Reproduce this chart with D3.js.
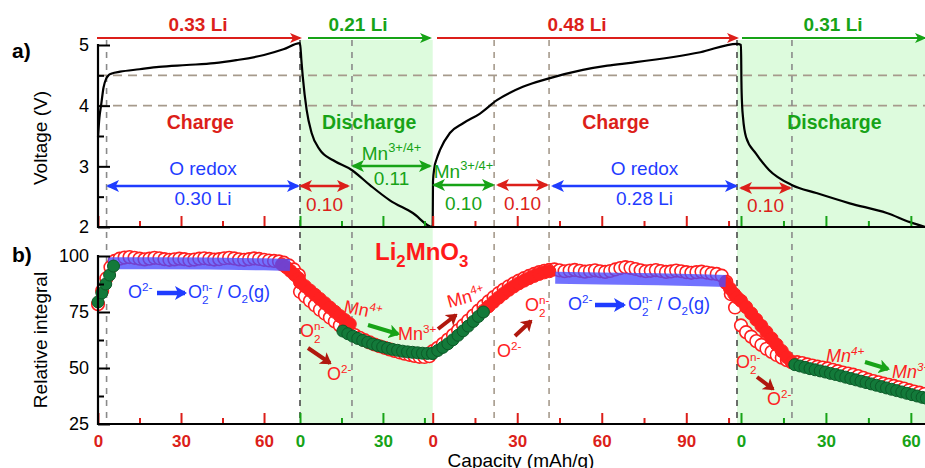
<!DOCTYPE html>
<html>
<head>
<meta charset="utf-8">
<script src="https://cdn.jsdelivr.net/npm/d3@7"></script>
<style>
  body { margin: 0; background: #fff; }
  svg { display: block; font-family: "Liberation Sans", Arial, sans-serif; }
</style>
</head>
<body>
<div id="chart"></div>
<script>
// ---- data ----
const segNames = ['Charge', 'Discharge', 'Charge', 'Discharge'];
const segLi = ['0.33 Li', '0.21 Li', '0.48 Li', '0.31 Li'];
const segCap = [73, 48, 108, 65];            // mAh/g shown in each segment
const segTicks = [[0, 15, 30, 45, 60], [0, 15, 30, 45], [0, 15, 30, 45, 60, 75, 90, 105], [0, 15, 30, 45, 60]];
const voltTicks = [2, 2.5, 3, 3.5, 4, 4.5, 5];
const integralTicks = [25, 37.5, 50, 62.5, 75, 87.5, 100];
const voltGuides = [4.5, 4];
const capGuideSeg = [0, 1, 1, 2, 2, 2, 3];
const capGuideVal = [3.1, 0, 18.8, 21.8, 41.3, 108, 18];

// voltage profiles, [capacity, V]
const volt = [
  [[0, 3.48], [0.5, 3.8], [1.1, 4.0], [2, 4.3], [3, 4.45], [3.8, 4.5], [5, 4.53], [8, 4.56], [15, 4.6], [22, 4.64],
   [32, 4.67], [42, 4.7], [50, 4.75], [60, 4.835], [67, 4.93], [73, 5.03]],
  [[0, 5.03], [0.5, 4.75], [1, 4.48], [2.4, 3.93], [4.2, 3.55], [7.2, 3.27], [12, 3.1], [18.7, 2.94], [25.3, 2.69],
   [32.5, 2.44], [40.8, 2.23], [48, 2.0]],
  [[0, 2.0], [0.1, 2.75], [0.6, 2.98], [1.4, 3.12], [2.6, 3.27], [6.1, 3.55], [10.8, 3.71], [16.8, 3.87], [22.8, 4.09],
   [32, 4.31], [41.3, 4.45], [53.3, 4.59], [62, 4.66], [71, 4.71], [95, 4.88], [108, 5.02]],
  [[0, 5.0], [0.15, 4.4], [0.4, 4.0], [0.7, 3.81], [1.8, 3.48], [5.3, 3.21], [9.9, 2.94], [18.1, 2.69], [26.6, 2.56],
   [38.4, 2.39], [51.5, 2.23], [59.7, 2.08], [65, 2.0]]
];

// relative integral, [capacity, %]
const redOpen = [
  [[0, 78.5], [1.5, 84.5], [3, 90], [4.5, 95], [6, 97.8], [7.8, 98.8], [9.6, 99.3], [11.4, 99.5], [13.2, 99.2], [15, 98.8],
   [16.8, 98.5], [18.6, 98.8], [20.4, 99.2], [22.2, 99], [24, 98.6], [25.8, 98.3], [27.6, 98.5], [29.4, 98.8], [31.2, 98.6],
   [33, 98.2], [34.8, 98.4], [36.6, 98.8], [38.4, 99], [40.2, 98.7], [42, 98.4], [43.8, 98.6], [45.6, 99], [47.4, 99.2],
   [49.2, 98.9], [51, 98.5], [52.8, 98.3], [54.6, 98.6], [56.4, 98.9], [58.2, 98.7], [60, 98.3], [61.8, 98], [63.6, 97.8],
   [65.4, 97.6], [67.2, 97], [69, 95.8], [70.8, 94], [72.6, 91.5]],
  [[0, 84], [1.8, 82], [3.6, 80], [5.4, 78], [7.2, 76], [9, 74.3], [10.8, 72.5], [12.6, 70.8], [14.4, 69], [16.2, 67.5],
   [18, 66], [19.8, 64.7], [21.6, 63.5], [23.4, 62.4], [25.2, 61.4], [27, 60.5], [28.8, 59.7], [30.6, 59], [32.4, 58.3],
   [34.2, 57.6], [36, 57], [37.8, 56.4], [39.6, 55.9], [41.4, 55.4], [43.2, 55], [45, 54.9], [46.8, 55.3]],
  [[0, 57.5], [1.8, 59], [3.6, 60.8], [5.4, 62.7], [7.2, 64.7], [9, 66.8], [10.8, 69], [12.6, 71.2], [14.4, 73.4],
   [16.2, 75.6], [18, 77.7], [19.8, 79.7], [21.6, 81.6], [23.4, 83.4], [25.2, 85], [27, 86.5], [28.8, 87.8], [30.6, 89],
   [32.4, 90.1], [34.2, 91.1], [36, 92], [37.8, 92.8], [39.6, 93.4], [41.4, 93.8], [43.2, 94], [45, 93.6], [46.8, 93.2],
   [48.6, 93.5], [50.4, 93.8], [52.2, 93.4], [54, 93], [55.8, 93.3], [57.6, 93.6], [59.4, 93.2], [61.2, 92.9], [63, 93.3],
   [64.8, 94], [66.6, 94.6], [68.4, 95], [70.2, 94.7], [72, 94.2], [73.8, 93.6], [75.6, 93.2], [77.4, 93.4], [79.2, 93.7],
   [81, 93.3], [82.8, 92.9], [84.6, 93.1], [86.4, 93.5], [88.2, 93.2], [90, 92.8], [91.8, 92.5], [93.6, 92.8], [95.4, 93],
   [97.2, 92.6], [99, 92.2], [100.8, 92], [102.6, 91.2], [104.2, 88.5], [105.8, 83], [107.3, 77]],
  [[0, 69], [1.8, 66], [3.6, 64], [5.4, 62], [7.2, 60.3], [9, 58.6], [10.8, 57.2], [12.6, 55.8], [14.4, 54.6], [16.2, 53.5],
   [18, 52.6], [19.8, 52.6], [21.6, 52.2], [23.4, 51.6], [25.2, 51.1], [27, 50.6], [28.8, 50.2], [30.6, 49.8], [32.4, 49.2],
   [34.2, 48.6], [36, 48], [37.8, 47.5], [39.6, 47], [41.4, 46.4], [43.2, 45.6], [45, 44.8], [46.8, 44.2], [48.6, 43.6],
   [50.4, 43], [52.2, 42.5], [54, 42], [55.8, 41.4], [57.6, 40.8], [59.4, 40.1], [61.2, 39.5], [63, 39], [64.8, 38.4]]
];
const redFill = [
  [[66.5, 96.2], [68, 95], [69.5, 93.4], [71, 91.7], [72.5, 90]],
  [[0, 88.3], [1.8, 86.5], [3.6, 84.6], [5.4, 82.7], [7.2, 80.8], [9, 78.9], [10.8, 77], [12.6, 75.1], [14.4, 73.2],
   [16.2, 71.4], [18, 69.6]],
  [[18, 75.5], [19.8, 77.5], [21.6, 79.5], [23.4, 81.4], [25.2, 83.2], [27, 84.9], [28.8, 86.4], [30.6, 87.8], [32.4, 89],
   [34.2, 90.1], [36, 91.1], [37.8, 92], [39.6, 92.7], [41.4, 93.2], [104, 88], [105.5, 85.5], [107, 83], [108, 81.5]],
  [[0, 80], [1.8, 77.2], [3.6, 74.4], [5.4, 71.6], [7.2, 68.8], [9, 66], [10.8, 63.2], [12.6, 60.4], [14.4, 57.6],
   [16.2, 54.8], [18, 52.5]]
];
const blueFit = [
  [[3.6, 96.8], [20, 96.8], [40, 96.6], [60, 96.3], [69.4, 96]],
  [],
  [[43.5, 90.3], [60, 90], [80, 89.6], [95, 89.2], [104, 88.8]],
  []
];
const greenFit = [
  [[0, 79.5], [1.4, 83.5], [2.8, 87.5], [4.2, 91.5], [5.6, 95.5]],
  [[15.5, 66.5], [17.3, 65.3], [19.1, 64.2], [20.9, 63.2], [22.7, 62.3], [24.5, 61.5], [26.3, 60.7], [28.1, 60], [29.9, 59.4],
   [31.7, 58.8], [33.5, 58.3], [35.3, 57.9], [37.1, 57.5], [38.9, 57.2], [40.7, 57], [42.5, 56.8], [44.3, 56.6], [46.1, 56.5],
   [47.9, 56.5]],
  [[0, 56.5], [1.8, 57.8], [3.6, 59.2], [5.4, 60.8], [7.2, 62.6], [9, 64.6], [10.8, 66.6], [12.6, 68.7], [14.4, 70.8],
   [16.2, 73], [18, 75]],
  [[19, 51.5], [20.8, 50.9], [22.6, 50.3], [24.4, 49.7], [26.2, 49.2], [28, 48.7], [29.8, 48.2], [31.6, 47.6], [33.4, 47.1],
   [35.2, 46.5], [37, 45.9], [38.8, 45.3], [40.6, 44.7], [42.4, 44.1], [44.2, 43.5], [46, 42.9], [47.8, 42.3], [49.6, 41.7],
   [51.4, 41.1], [53.2, 40.5], [55, 39.9], [56.8, 39.3], [58.6, 38.7], [60.4, 38.1], [62.2, 37.5], [64, 36.9], [65.5, 36.5]]
];

// ---- layout ----
const width = 925, height = 468;
const segPx = [[98, 300], [300, 432.7], [432.7, 737], [741, 925]];
const RED = '#dc1f1a', GREEN = '#17a317', BLUE = '#1f3cff', LRED = '#ff2222', DRED = '#b0180e';
const segColor = [RED, GREEN, RED, GREEN];

const svg = d3.select('#chart').append('svg').attr('width', width).attr('height', height);
const defs = svg.append('defs');

const xs = segCap.map((c, i) => d3.scaleLinear().domain([0, c]).range(segPx[i]));
const yA = d3.scaleLinear().domain([2, 5]).range([227, 45]);
const yB = d3.scaleLinear().domain([25, 100]).range([424, 256]);

function marker(id, color, len, half) {
  defs.append('marker')
    .attr('id', id)
    .attr('viewBox', `0 ${-half} ${len} ${half * 2}`)
    .attr('refX', len - 2).attr('refY', 0)
    .attr('markerUnits', 'userSpaceOnUse')
    .attr('markerWidth', len).attr('markerHeight', half * 2)
    .attr('orient', 'auto-start-reverse')
    .append('path')
    .attr('d', `M0,${-half}L${len},0L0,${half}L${len * 0.25},0Z`)
    .attr('fill', color);
}
marker('mRed', RED, 12, 5);
marker('mGreen', GREEN, 12, 5);
marker('mBlue', BLUE, 13, 6);
marker('mRed2', RED, 13, 6);
marker('mGreen2', GREEN, 13, 6);
marker('mBlueBig', BLUE, 12, 7);
marker('mDred', DRED, 11, 7);
marker('mGreenBig', GREEN, 11, 7);

function arrow(g, x1, y1, x2, y2, color, w, end, start) {
  const l = g.append('line').attr('x1', x1).attr('y1', y1).attr('x2', x2).attr('y2', y2)
    .attr('stroke', color).attr('stroke-width', w).attr('marker-end', `url(#${end})`);
  if (start) l.attr('marker-start', `url(#${start})`);
  return l;
}

// text with super/subscripts; parts: strings or {sup}, {sub}, {sup, sub} (stacked)
function rich(g, x, y, parts, o) {
  const t = g.append('text').attr('x', x).attr('y', y)
    .attr('fill', o.color).attr('font-size', o.size)
    .attr('font-weight', o.bold ? 'bold' : null)
    .attr('font-style', o.italic ? 'italic' : null)
    .attr('text-anchor', o.anchor || 'start');
  if (o.rotate) t.attr('transform', `rotate(${o.rotate},${x},${y})`);
  const small = o.size * (o.scale || 0.65);
  let cur = 0, pending = 0;
  const add = (str, off, size, dx) => {
    const s = t.append('tspan').attr('dy', off - cur).attr('font-size', size).text(str);
    if (dx) s.attr('dx', dx);
    cur = off;
    return s;
  };
  parts.forEach(p => {
    if (typeof p === 'string') { add(p, 0, o.size, pending); pending = 0; }
    else if (p.sup && p.sub) {
      const a = add(p.sup, -o.size * 0.4, small, pending);
      const wa = a.node().getComputedTextLength();
      const b = add(p.sub, o.size * 0.32, small, -wa);
      pending = Math.max(0, wa - b.node().getComputedTextLength());
    } else if (p.sup) { add(p.sup, -o.size * 0.4, small, pending); pending = 0; }
    else if (p.sub) { add(p.sub, o.size * 0.3, small, pending); pending = 0; }
  });
  return t;
}

// ---- background: discharge shading and guides ----
[1, 3].forEach(i => {
  const x0 = i === 3 ? xs[2](segCap[2]) : segPx[i][0];
  svg.append('rect').attr('x', x0).attr('y', 40)
    .attr('width', segPx[i][1] - x0).attr('height', 424 - 40)
    .attr('fill', '#ddfbdd');
});

svg.append('g').selectAll('line')
  .data(voltGuides).enter().append('line')
  .attr('x1', 98).attr('x2', width)
  .attr('y1', d => yA(d)).attr('y2', d => yA(d))
  .attr('stroke', '#a69a8c').attr('stroke-width', 1.6).attr('stroke-dasharray', '9,6');

const guideColors = ['#8a8a8a', '#4a4a4a', '#8a8a8a', '#a69a8c', '#a69a8c', '#4a4a4a', '#8a8a8a'];
svg.append('g').selectAll('line')
  .data(capGuideVal).enter().append('line')
  .attr('x1', (d, i) => xs[capGuideSeg[i]](d)).attr('x2', (d, i) => xs[capGuideSeg[i]](d))
  .attr('y1', 40).attr('y2', 424)
  .attr('stroke', (d, i) => guideColors[i]).attr('stroke-width', 1.6).attr('stroke-dasharray', '6,6');

// ---- panel a: voltage ----
let vPts = [];
volt.forEach((seg, i) => seg.forEach(d => {
  const px = xs[i](d[0]);
  if (!vPts.length || px > vPts[vPts.length - 1][0] + 0.01) vPts.push([px, yA(d[1])]);
}));
svg.append('path')
  .attr('d', d3.line().curve(d3.curveMonotoneX)(vPts))
  .attr('fill', 'none').attr('stroke', '#000').attr('stroke-width', 2.2);

// ---- panel b: relative integral ----
const pb = svg.append('g');
redOpen.forEach((seg, i) => pb.append('g').selectAll('circle')
  .data(seg).enter().append('circle')
  .attr('cx', d => xs[i](d[0])).attr('cy', d => yB(d[1])).attr('r', 6.3)
  .attr('fill', '#fff').attr('stroke', '#ff1f1f').attr('stroke-width', 1.6));
redFill.forEach((seg, i) => pb.append('g').selectAll('circle')
  .data(seg).enter().append('circle')
  .attr('cx', d => xs[i](d[0])).attr('cy', d => yB(d[1])).attr('r', 6.5)
  .attr('fill', '#ff2020').attr('stroke', '#ff2020').attr('stroke-width', 1));
blueFit.forEach((seg, i) => {
  if (!seg.length) return;
  pb.append('path')
    .attr('d', d3.line().x(d => xs[i](d[0])).y(d => yB(d[1]))(seg))
    .attr('fill', 'none').attr('stroke', '#4a4aff').attr('stroke-opacity', 0.78)
    .attr('stroke-width', 12);
});
greenFit.forEach((seg, i) => pb.append('g').selectAll('circle')
  .data(seg).enter().append('circle')
  .attr('cx', d => xs[i](d[0])).attr('cy', d => yB(d[1])).attr('r', 6)
  .attr('fill', '#137a3a').attr('stroke', '#0c5a28').attr('stroke-width', 1));

// ---- axes ----
function xAxis(y, labels) {
  segCap.forEach((c, i) => {
    const g = svg.append('g').attr('transform', `translate(0,${y})`)
      .call(d3.axisBottom(xs[i]).tickValues(segTicks[i]).tickSize(0).tickPadding(11)
        .tickFormat(d => labels && d % 30 === 0 ? d : ''));
    g.select('.domain').remove();
    g.attr('font-family', null).attr('font-size', 17);
    g.selectAll('.tick line').attr('y2', d => d % 30 === 0 ? -11 : -6)
      .attr('stroke', segColor[i]).attr('stroke-width', 2);
    g.selectAll('.tick text').attr('fill', segColor[i]).attr('font-weight', 'bold');
  });
  svg.append('line').attr('x1', 97).attr('x2', width).attr('y1', y).attr('y2', y)
    .attr('stroke', '#000').attr('stroke-width', 2.2);
}
function yAxis(scale, ticks, y0, y1, fmt) {
  const g = svg.append('g').attr('transform', 'translate(98,0)')
    .call(d3.axisLeft(scale).tickValues(ticks).tickSize(0).tickPadding(9).tickFormat(fmt));
  g.select('.domain').remove();
  g.attr('font-family', null).attr('font-size', 18);
  g.selectAll('.tick line').attr('x2', d => fmt(d) !== '' ? 12 : 6)
    .attr('stroke', '#000').attr('stroke-width', 2);
  g.selectAll('.tick text').attr('fill', '#000');
  svg.append('line').attr('x1', 98).attr('x2', 98).attr('y1', y0).attr('y2', y1)
    .attr('stroke', '#000').attr('stroke-width', 2.2);
}
xAxis(227, false);
xAxis(424, true);
yAxis(yA, voltTicks, 44, 228, d => Number.isInteger(d) ? d : '');
yAxis(yB, integralTicks, 255, 425, d => d % 25 === 0 ? d : '');

svg.append('text').attr('transform', 'translate(47,138) rotate(-90)').attr('text-anchor', 'middle')
  .attr('font-size', 19).text('Voltage (V)');
svg.append('text').attr('transform', 'translate(47,340) rotate(-90)').attr('text-anchor', 'middle')
  .attr('font-size', 19).text('Relative integral');
svg.append('text').attr('x', 521).attr('y', 467).attr('text-anchor', 'middle')
  .attr('font-size', 19).text('Capacity (mAh/g)');
svg.append('text').attr('x', 12).attr('y', 58).attr('font-size', 21).attr('font-weight', 'bold').text('a)');
svg.append('text').attr('x', 12).attr('y', 262).attr('font-size', 21).attr('font-weight', 'bold').text('b)');

// ---- panel a annotations ----
const topArrows = [[97, 300, 198], [308, 430, 358], [437, 737, 577], [742, 925, 833]];
topArrows.forEach((a, i) => {
  arrow(svg, a[0], 38, a[1], 38, segColor[i], 2, i % 2 ? 'mGreen' : 'mRed');
  svg.append('text').attr('x', a[2]).attr('y', 31).attr('text-anchor', 'middle')
    .attr('font-size', 19).attr('font-weight', 'bold').attr('fill', segColor[i]).text(segLi[i]);
});
const nameCap = [37, 25, 65, 33];
segNames.forEach((n, i) => {
  svg.append('text').attr('x', xs[i](nameCap[i])).attr('y', 129).attr('text-anchor', 'middle')
    .attr('font-size', 19.5).attr('font-weight', 'bold').attr('fill', segColor[i]).text(n);
});

const dbl = [
  {x1: 108, x2: 298, y: 186, c: BLUE, m: 'mBlue', top: ['O redox'], ty: 175, bot: '0.30 Li', by: 205},
  {x1: 301, x2: 348, y: 186, c: RED, m: 'mRed2', bot: '0.10', by: 211},
  {x1: 353, x2: 430, y: 166, c: GREEN, m: 'mGreen2', top: ['Mn', {sup: '3+/4+'}], ty: 160, bot: '0.11', by: 185},
  {x1: 434, x2: 493, y: 185, c: GREEN, m: 'mGreen2', top: ['Mn', {sup: '3+/4+'}], ty: 178, bot: '0.10', by: 210},
  {x1: 498, x2: 547, y: 185, c: RED, m: 'mRed2', bot: '0.10', by: 210},
  {x1: 553, x2: 736, y: 186, c: BLUE, m: 'mBlue', top: ['O redox'], ty: 175, bot: '0.28 Li', by: 205},
  {x1: 741, x2: 790, y: 188, c: RED, m: 'mRed2', bot: '0.10', by: 212}
];
dbl.forEach(a => {
  arrow(svg, a.x1, a.y, a.x2, a.y, a.c, 2.4, a.m, a.m);
  const mid = (a.x1 + a.x2) / 2;
  if (a.top) rich(svg, mid, a.ty, a.top, {color: a.c, size: 19, anchor: 'middle', scale: 0.68});
  svg.append('text').attr('x', mid).attr('y', a.by).attr('text-anchor', 'middle')
    .attr('font-size', 19).attr('fill', a.c).text(a.bot);
});

// ---- panel b annotations ----
rich(svg, 375, 260, ['Li', {sub: '2'}, 'MnO', {sub: '3'}], {color: '#ff1a1a', size: 24, bold: true, scale: 0.7});

[[128, 298, 157, 185, 293, 188], [568, 310, 595, 624, 305, 628]].forEach(p => {
  rich(svg, p[0], p[1], ['O', {sup: '2-'}], {color: BLUE, size: 18});
  arrow(svg, p[2], p[4], p[3], p[4], BLUE, 4.5, 'mBlueBig');
  rich(svg, p[5], p[1], ['O', {sup: 'n-', sub: '2'}, ' / O', {sub: '2'}, '(g)'], {color: BLUE, size: 18});
});

// peroxo -> oxide
[[300, 337, 308, 348, 330, 363, 327, 380], [525, 311, 515, 336, 531, 321, 497, 357], [736, 368, 757, 377, 773, 389, 767, 405]]
  .forEach(p => {
    rich(svg, p[0], p[1], ['O', {sup: 'n-', sub: '2'}], {color: LRED, size: 18});
    arrow(svg, p[2], p[3], p[4], p[5], DRED, 4, 'mDred');
    rich(svg, p[6], p[7], ['O', {sup: '2-'}], {color: LRED, size: 18});
  });

// Mn reduction / oxidation
rich(svg, 343, 312, ['Mn', {sup: '4+'}], {color: LRED, size: 18, rotate: 12});
arrow(svg, 368, 325, 398, 334, GREEN, 4, 'mGreenBig');
rich(svg, 398, 340, ['Mn', {sup: '3+'}], {color: LRED, size: 18});
rich(svg, 449, 308, ['Mn', {sup: '4+'}], {color: LRED, size: 18, rotate: -15});
arrow(svg, 438, 329, 456, 315, DRED, 4, 'mDred');
rich(svg, 826, 362, ['Mn', {sup: '4+'}], {color: LRED, size: 18, italic: true});
arrow(svg, 865, 362, 888, 369, GREEN, 4, 'mGreenBig');
rich(svg, 892, 378, ['Mn', {sup: '3+'}], {color: LRED, size: 18, italic: true});
</script>
</body>
</html>
